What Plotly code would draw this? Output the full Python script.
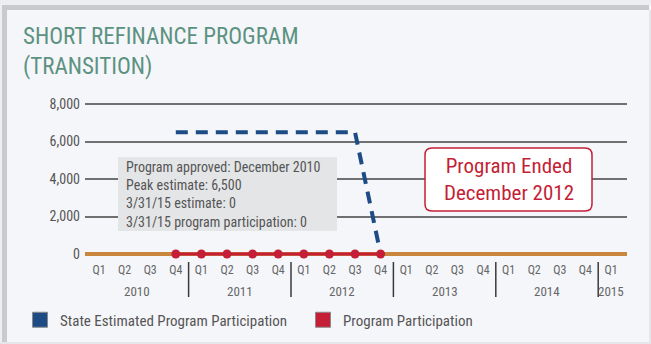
import plotly.graph_objects as go

# ---- data ----
years = ["2010", "2011", "2012", "2013", "2014", "2015"]
quarters_per_year = [4, 4, 4, 4, 4, 1]
quarter_labels = ["Q1", "Q2", "Q3", "Q4"] * 5 + ["Q1"]
estimated = [None, None, None, 6500, 6500, 6500, 6500, 6500, 6500, 6500, 6500, 0,
             None, None, None, None, None, None, None, None, None]
participation = [None, None, None, 0, 0, 0, 0, 0, 0, 0, 0, 0,
                 None, None, None, None, None, None, None, None, None]
y_ticks = [0, 2000, 4000, 6000, 8000]
note_lines = [
    "Program approved: December 2010",
    "Peak estimate: 6,500",
    "3/31/15 estimate: 0",
    "3/31/15 program participation: 0",
]
ended_text = "Program Ended<br>December 2012"
title_text = "SHORT REFINANCE PROGRAM<br>(TRANSITION)"
series_names = ["State Estimated Program Participation", "Program Participation"]

# ---- styling ----
W, H = 651, 344
L, R, T, B = 85, 627, 100, 256
FONT = "Liberation Sans Narrow, Arial Narrow, Roboto Condensed, DejaVu Sans Condensed, sans-serif"
BLUE = "#1d4b85"
RED = "#c41f36"
ORANGE = "#c8873d"
GRID = "#707070"
TEXT = "#555555"
CARD = "#f5f6fa"
TEAL = "#5c9281"


def px_x(px):
    return (px - L) / (R - L)


def px_y(py):
    return (B - py) / (B - T)


idx = list(range(len(quarter_labels)))
x0_px, step_px = 99.0, 25.6
x_range = [(L - x0_px) / step_px, (R - x0_px) / step_px]
units_per_px = 8000 / 150.0
y_range = [-(B - 254) * units_per_px, 8000 + (104 - T) * units_per_px]

fig = go.Figure()

fig.add_trace(go.Scatter(
    x=idx, y=estimated, mode="lines", showlegend=False, cliponaxis=False,
    line=dict(color=BLUE, width=4, dash="12px,8px"), hoverinfo="skip",
))
fig.add_trace(go.Scatter(
    x=idx, y=participation, mode="lines+markers", showlegend=False, cliponaxis=False,
    line=dict(color=RED, width=3), marker=dict(color=RED, size=9), hoverinfo="skip",
))

# legend entries as square swatches
for name, col in zip(series_names, [BLUE, RED]):
    fig.add_trace(go.Scatter(
        x=[None], y=[None], mode="markers", name=name,
        marker=dict(symbol="square", size=15, color=col, line=dict(color="#8a8a8a", width=1)),
    ))

shapes = []
annotations = []

# card frame
shapes.append(dict(type="rect", xref="paper", yref="paper",
                   x0=px_x(-5), x1=px_x(W + 5), y0=px_y(0 - 5), y1=px_y(5),
                   fillcolor="#eceef1", line=dict(width=0), layer="below"))
shapes.append(dict(type="rect", xref="paper", yref="paper",
                   x0=px_x(2), x1=px_x(W - 2), y0=px_y(5), y1=px_y(10),
                   fillcolor="#c9cacc", line=dict(width=0), layer="below"))
shapes.append(dict(type="rect", xref="paper", yref="paper",
                   x0=px_x(2), x1=px_x(7), y0=px_y(5), y1=px_y(H + 5),
                   fillcolor="#c9cacc", line=dict(width=0), layer="below"))
shapes.append(dict(type="rect", xref="paper", yref="paper",
                   x0=px_x(-5), x1=px_x(2), y0=px_y(0), y1=px_y(H + 5),
                   fillcolor="#eceef1", line=dict(width=0), layer="below"))
shapes.append(dict(type="rect", xref="paper", yref="paper",
                   x0=px_x(-5), x1=px_x(W + 5), y0=px_y(H - 2), y1=px_y(H + 5),
                   fillcolor="#e6e7ea", line=dict(width=0), layer="below"))
shapes.append(dict(type="rect", xref="paper", yref="paper",
                   x0=px_x(W - 2), x1=px_x(W + 5), y0=px_y(10), y1=px_y(H + 5),
                   fillcolor="#e6e7ea", line=dict(width=0), layer="below"))

# title
annotations.append(dict(
    xref="paper", yref="paper", x=px_x(21), y=px_y(51),
    xanchor="left", yanchor="middle", align="left", showarrow=False, text=title_text,
    font=dict(family=FONT, size=23, color=TEAL),
))

# year dividers and labels
start = 0
for k, (yr, n) in enumerate(zip(years, quarters_per_year)):
    centre = start + (n - 1) / 2
    annotations.append(dict(
        xref="x", yref="paper", x=centre, y=px_y(291), xanchor="center", yanchor="middle",
        showarrow=False, text=yr, font=dict(family=FONT, size=13, color="#666666"),
    ))
    if k > 0:
        shapes.append(dict(type="line", xref="x", yref="paper",
                           x0=start - 0.5, x1=start - 0.5, y0=px_y(262), y1=px_y(297),
                           line=dict(color="#3a3a3a", width=1.5)))
    start += n

# note box
shapes.append(dict(type="rect", xref="paper", yref="paper",
                   x0=px_x(118), x1=px_x(337), y0=px_y(157), y1=px_y(231),
                   fillcolor="#e4e5e7", line=dict(width=0), layer="above"))
annotations.append(dict(
    xref="paper", yref="paper", x=px_x(124), y=px_y(194),
    xanchor="left", yanchor="middle", align="left", showarrow=False,
    text="<br>".join(note_lines),
    font=dict(family=FONT, size=14, color=TEXT),
))

# "Program Ended" callout with rounded border
bx0, bx1, by0, by1, rr = 425, 592, 148, 211, 7
path = (
    f"M {px_x(bx0 + rr)},{px_y(by0)} L {px_x(bx1 - rr)},{px_y(by0)} "
    f"Q {px_x(bx1)},{px_y(by0)} {px_x(bx1)},{px_y(by0 + rr)} "
    f"L {px_x(bx1)},{px_y(by1 - rr)} "
    f"Q {px_x(bx1)},{px_y(by1)} {px_x(bx1 - rr)},{px_y(by1)} "
    f"L {px_x(bx0 + rr)},{px_y(by1)} "
    f"Q {px_x(bx0)},{px_y(by1)} {px_x(bx0)},{px_y(by1 - rr)} "
    f"L {px_x(bx0)},{px_y(by0 + rr)} "
    f"Q {px_x(bx0)},{px_y(by0)} {px_x(bx0 + rr)},{px_y(by0)} Z"
)
shapes.append(dict(type="path", xref="paper", yref="paper", path=path,
                   fillcolor="#ffffff", line=dict(color=RED, width=1.5), layer="above"))
annotations.append(dict(
    xref="paper", yref="paper", x=px_x((bx0 + bx1) / 2), y=px_y((by0 + by1) / 2),
    xanchor="center", yanchor="middle", showarrow=False, text=ended_text,
    font=dict(family=FONT, size=21, color=RED),
))

fig.update_layout(
    width=W, height=H,
    margin=dict(l=L, r=W - R, t=T, b=H - B, pad=0, autoexpand=False),
    paper_bgcolor=CARD, plot_bgcolor=CARD,
    font=dict(family=FONT, color=TEXT),
    shapes=shapes, annotations=annotations,
    showlegend=True,
    legend=dict(
        orientation="h", x=px_x(20), xanchor="left", y=px_y(320), yanchor="middle",
        bgcolor="rgba(0,0,0,0)", font=dict(family=FONT, size=15, color=TEXT),
        entrywidth=238, entrywidthmode="pixels", itemsizing="trace", itemwidth=30,
    ),
    xaxis=dict(
        range=x_range, tickmode="array", tickvals=idx, ticktext=quarter_labels,
        showgrid=False, zeroline=False, showline=False, ticks="", ticklabelstandoff=5,
        tickfont=dict(family=FONT, size=12, color="#666666"), fixedrange=True,
    ),
    yaxis=dict(
        range=y_range, tickmode="array", tickvals=y_ticks,
        ticktext=[f"{v:,}" for v in y_ticks],
        showgrid=True, gridcolor=GRID, gridwidth=2,
        zeroline=True, zerolinecolor=ORANGE, zerolinewidth=4,
        showline=False, ticks="", ticklabelstandoff=4,
        tickfont=dict(family=FONT, size=14, color=TEXT), fixedrange=True,
    ),
)

fig.write_html("out.html")
